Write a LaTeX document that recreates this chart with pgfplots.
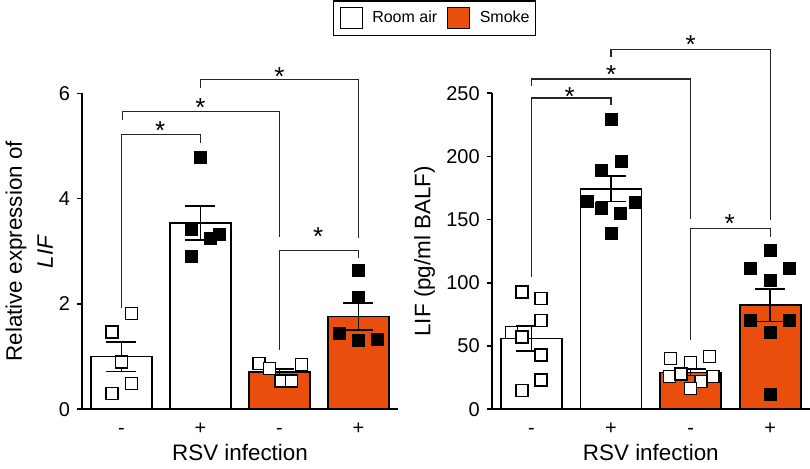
\documentclass[border=0pt]{standalone}
\usepackage{fontspec}
\setmainfont{Liberation Sans}
\usepackage{pgfplots}
\pgfplotsset{compat=1.18}
\definecolor{smoke}{RGB}{234,78,12}

\tikzset{
  brk/.style={line width=0.65pt, black!85},
  star/.style={font=\fontsize{13}{13}\selectfont, anchor=base, yshift=-7.5pt, inner sep=0pt},
}

\pgfplotsset{
  panel/.style={
    scale only axis, width=158pt, height=158pt,
    xmin=-0.5, xmax=3.5, ymin=0,
    axis x line*=bottom, axis y line*=left,
    axis line style={line width=0.8pt, black},
    xtick={0,1,2,3}, xticklabels={-,+,-,+},
    xtick style={draw=none},
    tick align=outside, major tick length=2.5pt,
    ytick style={line width=0.8pt, black},
    tick label style={font=\fontsize{10}{12}\selectfont},
    xticklabel style={anchor=base, yshift=-10pt},
    /pgf/number format/assume math mode=true,
    label style={font=\fontsize{11.2}{15.5}\selectfont},
    xlabel={RSV infection},
    xlabel style={at={(axis description cs:0.5,-0.163)}, anchor=base},
    clip=false,
  },
  mybar/.style={ybar, bar width=30.5pt, bar shift=0pt, draw=black, line width=0.8pt, forget plot},
  roomair/.style={mybar, fill=white},
  smk/.style={mybar, fill=smoke},
  open/.style={only marks, mark=square*, mark size=3pt, mark options={fill=white, draw=black, line width=0.65pt}, forget plot},
  filled/.style={only marks, mark=square*, mark size=3pt, mark options={fill=black, draw=black}, forget plot},
  sem/.style={draw=none, mark=none, forget plot,
    error bars/.cd, y dir=both, y explicit,
    error bar style={draw=black, line width=0.8pt},
    error mark options={rotate=90, draw=black, line width=0.8pt, mark size=7.5pt}},
}

\begin{document}
\begin{tikzpicture}
\useasboundingbox (-41pt,-29.85pt) rectangle (364pt,204.65pt);

% left panel: relative expression
\begin{axis}[panel, ymax=6, ytick={0,2,4,6},
  ylabel={Relative expression of\\\textit{LIF}},
  ylabel style={align=center, at={(axis description cs:-0.167,0.5)}, anchor=center},
  legend columns=2,
  legend image code/.code={\path[draw=none, fill=none] (0pt,0pt) -- (16pt,0pt);
    \draw[#1, line width=0.6pt] (0pt,-5.25pt) rectangle (11pt,5.25pt);},
  legend style={at={(1.116,1.2937)}, anchor=north, draw=black, line width=0.6pt,
    font=\fontsize{8}{10}\selectfont, inner xsep=3pt, inner ysep=3pt,
    nodes={inner xsep=0pt, inner ysep=1pt},
    /tikz/every even column/.append style={column sep=5pt}},
]
\addplot[roomair] coordinates {(0,1.00) (1,3.54)};
\addplot[smk] coordinates {(2,0.71) (3,1.76)};

\addplot[open] coordinates {(0.13,1.82) (-0.12,1.47) (0,0.90) (0.13,0.49) (-0.12,0.30)};
\addplot[filled] coordinates {(1,4.79) (0.88,3.42) (1.12,3.24) (1.24,3.32) (0.88,2.90)};
\addplot[open] coordinates {(1.74,0.87) (1.87,0.78) (2.02,0.54) (2.15,0.54) (2.28,0.85)};
\addplot[filled] coordinates {(3,2.63) (3,2.12) (2.76,1.44) (3,1.31) (3.24,1.33)};

\addplot[sem] coordinates {(0,1.00) +- (0,0.28) (1,3.54) +- (0,0.32) (2,0.71) +- (0,0.05) (3,1.76) +- (0,0.26)};

\addlegendimage{fill=white, draw=black}
\addlegendentry{Room air}
\addlegendimage{fill=smoke, draw=black}
\addlegendentry{Smoke}

\draw[brk] (axis cs:0,1.92) -- (axis cs:0,5.22) -- (axis cs:1,5.22) -- (axis cs:1,5.05);
\node[star] at (axis cs:0.49,5.40) {*};
\draw[brk] (axis cs:0.01,5.49) -- (axis cs:0.01,5.66) -- (axis cs:2,5.66) -- (axis cs:2,3.28);
\node[star] at (axis cs:1,5.84) {*};
\draw[brk] (axis cs:1,6.11) -- (axis cs:1,6.26) -- (axis cs:3,6.26) -- (axis cs:3,3.25);
\node[star] at (axis cs:2,6.43) {*};
\draw[brk] (axis cs:2,1.13) -- (axis cs:2,3.02) -- (axis cs:3,3.02) -- (axis cs:3,2.87);
\node[star] at (axis cs:2.49,3.40) {*};
\end{axis}

% right panel: LIF in BALF
\begin{axis}[panel, at={(204.85pt,0pt)}, anchor=south west, width=159.15pt,
  ymax=250, ytick={0,50,100,150,200,250},
  ylabel={LIF (pg/ml BALF)},
  ylabel style={at={(axis description cs:-0.211,0.5)}, anchor=center},
]
\addplot[roomair] coordinates {(0,56.0) (1,174.5)};
\addplot[smk] coordinates {(2,29.2) (3,82.3)};

\addplot[open] coordinates {(-0.12,92.9) (0.12,87.6) (0.12,70.5) (-0.25,60.5) (-0.12,57.3) (0.12,42.9) (0.12,23.1) (-0.12,14.7)};
\addplot[filled] coordinates {(1,229.7) (1.125,196) (0.88,188.9) (0.7,164.7) (1.3,163.4) (0.88,158.7) (1.12,154.7) (1,139.4)};
\addplot[open] coordinates {(1.75,40.2) (2.24,41.5) (2,36.8) (1.73,25.7) (1.88,27.9) (2.28,25.7) (2.13,21.8) (2,16.6)};
\addplot[filled] coordinates {(3,125.8) (2.75,111.3) (3.24,111.3) (3,102.1) (2.75,70) (3.24,70) (3,60.5) (3,11.8)};

\addplot[sem] coordinates {(0,56.0) +- (0,9.8) (1,174.5) +- (0,10) (2,29.2) +- (0,2.5) (3,82.3) +- (0,13)};

\draw[brk] (axis cs:0,105) -- (axis cs:0,246.3) -- (axis cs:1,246.3) -- (axis cs:1,241);
\node[star] at (axis cs:0.48,252.6) {*};
\draw[brk] (axis cs:0,256) -- (axis cs:0,261.3) -- (axis cs:2,261.3) -- (axis cs:2,150.8);
\node[star] at (axis cs:1,269.5) {*};
\draw[brk] (axis cs:1,278.4) -- (axis cs:1,284.4) -- (axis cs:3,284.4) -- (axis cs:3,149.4);
\node[star] at (axis cs:2,293.7) {*};
\draw[brk] (axis cs:2,54.7) -- (axis cs:2,142.9) -- (axis cs:3,142.9) -- (axis cs:3,136.3);
\node[star] at (axis cs:2.49,152) {*};
\end{axis}
\end{tikzpicture}
\end{document}
